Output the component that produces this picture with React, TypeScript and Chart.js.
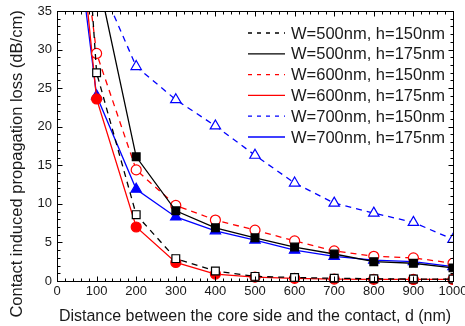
import React, { useEffect, useRef } from 'react';
import { Chart, registerables } from 'chart.js';
import { drawPoint } from 'chart.js/helpers';

Chart.register(...registerables);

const FONT = '"Liberation Sans", Arial, sans-serif';

// distance d (nm)
const distances = [50, 100, 200, 300, 400, 500, 600, 700, 800, 900, 1000];

const seriesLabels = [
  'W=500nm, h=150nm',
  'W=500nm, h=175nm',
  'W=600nm, h=150nm',
  'W=600nm, h=175nm',
  'W=700nm, h=150nm',
  'W=700nm, h=175nm',
];

// Contact induced propagation loss (dB/cm)
const w500h150 = [65, 27.0, 8.6, 2.9, 1.3, 0.6, 0.45, 0.35, 0.3, 0.25, 0.25];
const w500h175 = [null, 40.1, 16.1, 9.1, 6.9, 5.6, 4.4, 3.5, 2.5, 2.3, 1.7];
const w600h150 = [50, 29.5, 14.4, 9.8, 7.9, 6.6, 5.2, 3.9, 3.2, 3.0, 2.3];
const w600h175 = [49, 23.6, 7.0, 2.4, 0.9, 0.5, 0.35, 0.25, 0.22, 0.2, 0.2];
const w700h150 = [null, 39.6, 27.8, 23.5, 20.1, 16.3, 12.7, 10.1, 8.8, 7.6, 5.4];
const w700h175 = [44.6, 24.0, 11.9, 8.3, 6.5, 5.3, 4.0, 3.2, 2.7, 2.5, 1.85];

const xTickStep = 100;
const xMinorStep = 20;
const yTickStep = 5;
const yMinorStep = 1;

const xTitle = 'Distance between the core side and the contact, d (nm)';
const yTitle = 'Contact induced propagation loss (dB/cm)';

function makeDataset(
  label: string,
  values: (number | null)[],
  color: string,
  dashed: boolean,
  style: string,
  filled: boolean,
  radius: number
) {
  const pts = distances
    .map((x, i) => ({ x, y: values[i] }))
    .filter((p) => p.y !== null);
  return {
    label,
    data: pts,
    borderColor: color,
    backgroundColor: filled ? color : '#ffffff',
    borderWidth: 1.3,
    borderDash: dashed ? [6, 5] : [],
    pointStyle: style,
    pointRadius: radius,
    pointBorderColor: color,
    pointBackgroundColor: filled ? color : '#ffffff',
    pointBorderWidth: 1.2,
    tension: 0,
    clip: { left: 0, top: 0, right: 0, bottom: 6 },
  };
}

const frameTicks = {
  id: 'frameTicks',
  afterDatasetsDraw(chart: any) {
    const { ctx, chartArea, scales } = chart;
    const { left, right, top, bottom } = chartArea;
    const xs = scales.x;
    const ys = scales.y;
    const L = Math.round(left) + 0.5;
    const R = Math.round(right) + 0.5;
    const T = Math.round(top) + 0.5;
    const B = Math.round(bottom) + 0.5;
    ctx.save();
    ctx.strokeStyle = '#000';
    ctx.lineWidth = 1;
    ctx.setLineDash([]);
    ctx.strokeRect(L, T, R - L, B - T);
    ctx.beginPath();
    for (let v = xs.min; v <= xs.max + 1e-9; v += xMinorStep) {
      const px = Math.round(xs.getPixelForValue(v)) + 0.5;
      const len = Math.abs(v % xTickStep) < 1e-6 ? 5 : 3;
      ctx.moveTo(px, B);
      ctx.lineTo(px, B - len);
      ctx.moveTo(px, T);
      ctx.lineTo(px, T + len);
    }
    for (let v = ys.min; v <= ys.max + 1e-9; v += yMinorStep) {
      const py = Math.round(ys.getPixelForValue(v)) + 0.5;
      const len = Math.abs(v % yTickStep) < 1e-6 ? 5 : 3;
      ctx.moveTo(L, py);
      ctx.lineTo(L + len, py);
      ctx.moveTo(R, py);
      ctx.lineTo(R - len, py);
    }
    ctx.stroke();
    ctx.restore();
  },
};

const yTitlePlugin = {
  id: 'yTitlePlugin',
  afterDraw(chart: any) {
    const { ctx } = chart;
    ctx.save();
    ctx.translate(17, 164);
    ctx.rotate(-Math.PI / 2);
    ctx.fillStyle = '#1a1a1a';
    ctx.font = `16.5px ${FONT}`;
    ctx.textAlign = 'center';
    ctx.textBaseline = 'middle';
    ctx.fillText(yTitle, 0, 0);
    ctx.restore();
  },
};

const insideLegend = {
  id: 'insideLegend',
  afterDraw(chart: any) {
    const { ctx } = chart;
    const x0 = 248;
    const x1 = 285;
    const tx = 291;
    const y0 = 33;
    const dy = 20.8;
    ctx.save();
    chart.data.datasets.forEach((ds: any, i: number) => {
      const y = y0 + i * dy;
      ctx.strokeStyle = ds.borderColor;
      ctx.lineWidth = ds.borderWidth;
      ctx.setLineDash(ds.borderDash.length ? [4, 5] : []);
      ctx.beginPath();
      ctx.moveTo(x0, y);
      ctx.lineTo(x1, y);
      ctx.stroke();
      ctx.setLineDash([]);
      ctx.fillStyle = ds.pointBackgroundColor;
      ctx.strokeStyle = ds.pointBorderColor;
      ctx.lineWidth = ds.pointBorderWidth;
      drawPoint(ctx, { pointStyle: ds.pointStyle, rotation: 0, borderWidth: ds.pointBorderWidth }, (x0 + x1) / 2, y);
      ctx.fillStyle = '#1a1a1a';
      ctx.font = `16.5px ${FONT}`;
      ctx.textBaseline = 'middle';
      ctx.textAlign = 'left';
      ctx.fillText(ds.label, tx, y + 1);
    });
    ctx.restore();
  },
};

export default function App() {
  const ref = useRef<HTMLCanvasElement>(null);
  useEffect(() => {
    const canvas = ref.current!;
    const chart = new Chart(canvas, {
      type: 'line',
      data: {
        datasets: [
          makeDataset(seriesLabels[0], w500h150, '#000000', true, 'rect', false, 5.5),
          makeDataset(seriesLabels[1], w500h175, '#000000', false, 'rect', true, 5.5),
          makeDataset(seriesLabels[2], w600h150, '#ff0000', true, 'circle', false, 5),
          makeDataset(seriesLabels[3], w600h175, '#ff0000', false, 'circle', true, 5),
          makeDataset(seriesLabels[4], w700h150, '#0000ff', true, 'triangle', false, 6),
          makeDataset(seriesLabels[5], w700h175, '#0000ff', false, 'triangle', true, 6),
        ] as any,
      },
      options: {
        responsive: false,
        animation: false,
        events: [],
        layout: { padding: { top: 11, right: 12, left: 0, bottom: 0 } },
        plugins: {
          legend: { display: false },
          tooltip: { enabled: false },
        },
        scales: {
          x: {
            type: 'linear',
            min: 0,
            max: 1000,
            ticks: {
              stepSize: xTickStep,
              color: '#1a1a1a',
              font: { family: FONT, size: 13 },
              padding: 3,
              maxRotation: 0,
              autoSkip: false,
              callback: (v: any) => String(v),
            },
            grid: { display: false, drawTicks: false },
            border: { display: false },
            title: {
              display: true,
              text: xTitle,
              color: '#1a1a1a',
              font: { family: FONT, size: 16 },
              padding: { top: 0, bottom: 0 },
            },
            afterFit: (s: any) => {
              s.height = 45;
              s.paddingLeft = 0;
              s.paddingRight = 0;
            },
          },
          y: {
            type: 'linear',
            min: 0,
            max: 35,
            ticks: {
              stepSize: yTickStep,
              color: '#1a1a1a',
              font: { family: FONT, size: 13 },
              padding: 5,
              callback: (v: any) => String(v),
            },
            grid: { display: false, drawTicks: false },
            border: { display: false },
            title: { display: false },
            afterFit: (s: any) => {
              s.width = 57;
              s.paddingTop = 0;
              s.paddingBottom = 0;
            },
          },
        },
      } as any,
      plugins: [frameTicks, yTitlePlugin, insideLegend],
    });
    return () => chart.destroy();
  }, []);
  return (
    <div style={{ position: 'fixed', left: 0, top: 0, width: 465, height: 326, background: '#fff' }}>
      <canvas ref={ref} width={465} height={326} style={{ display: 'block' }} />
    </div>
  );
}
